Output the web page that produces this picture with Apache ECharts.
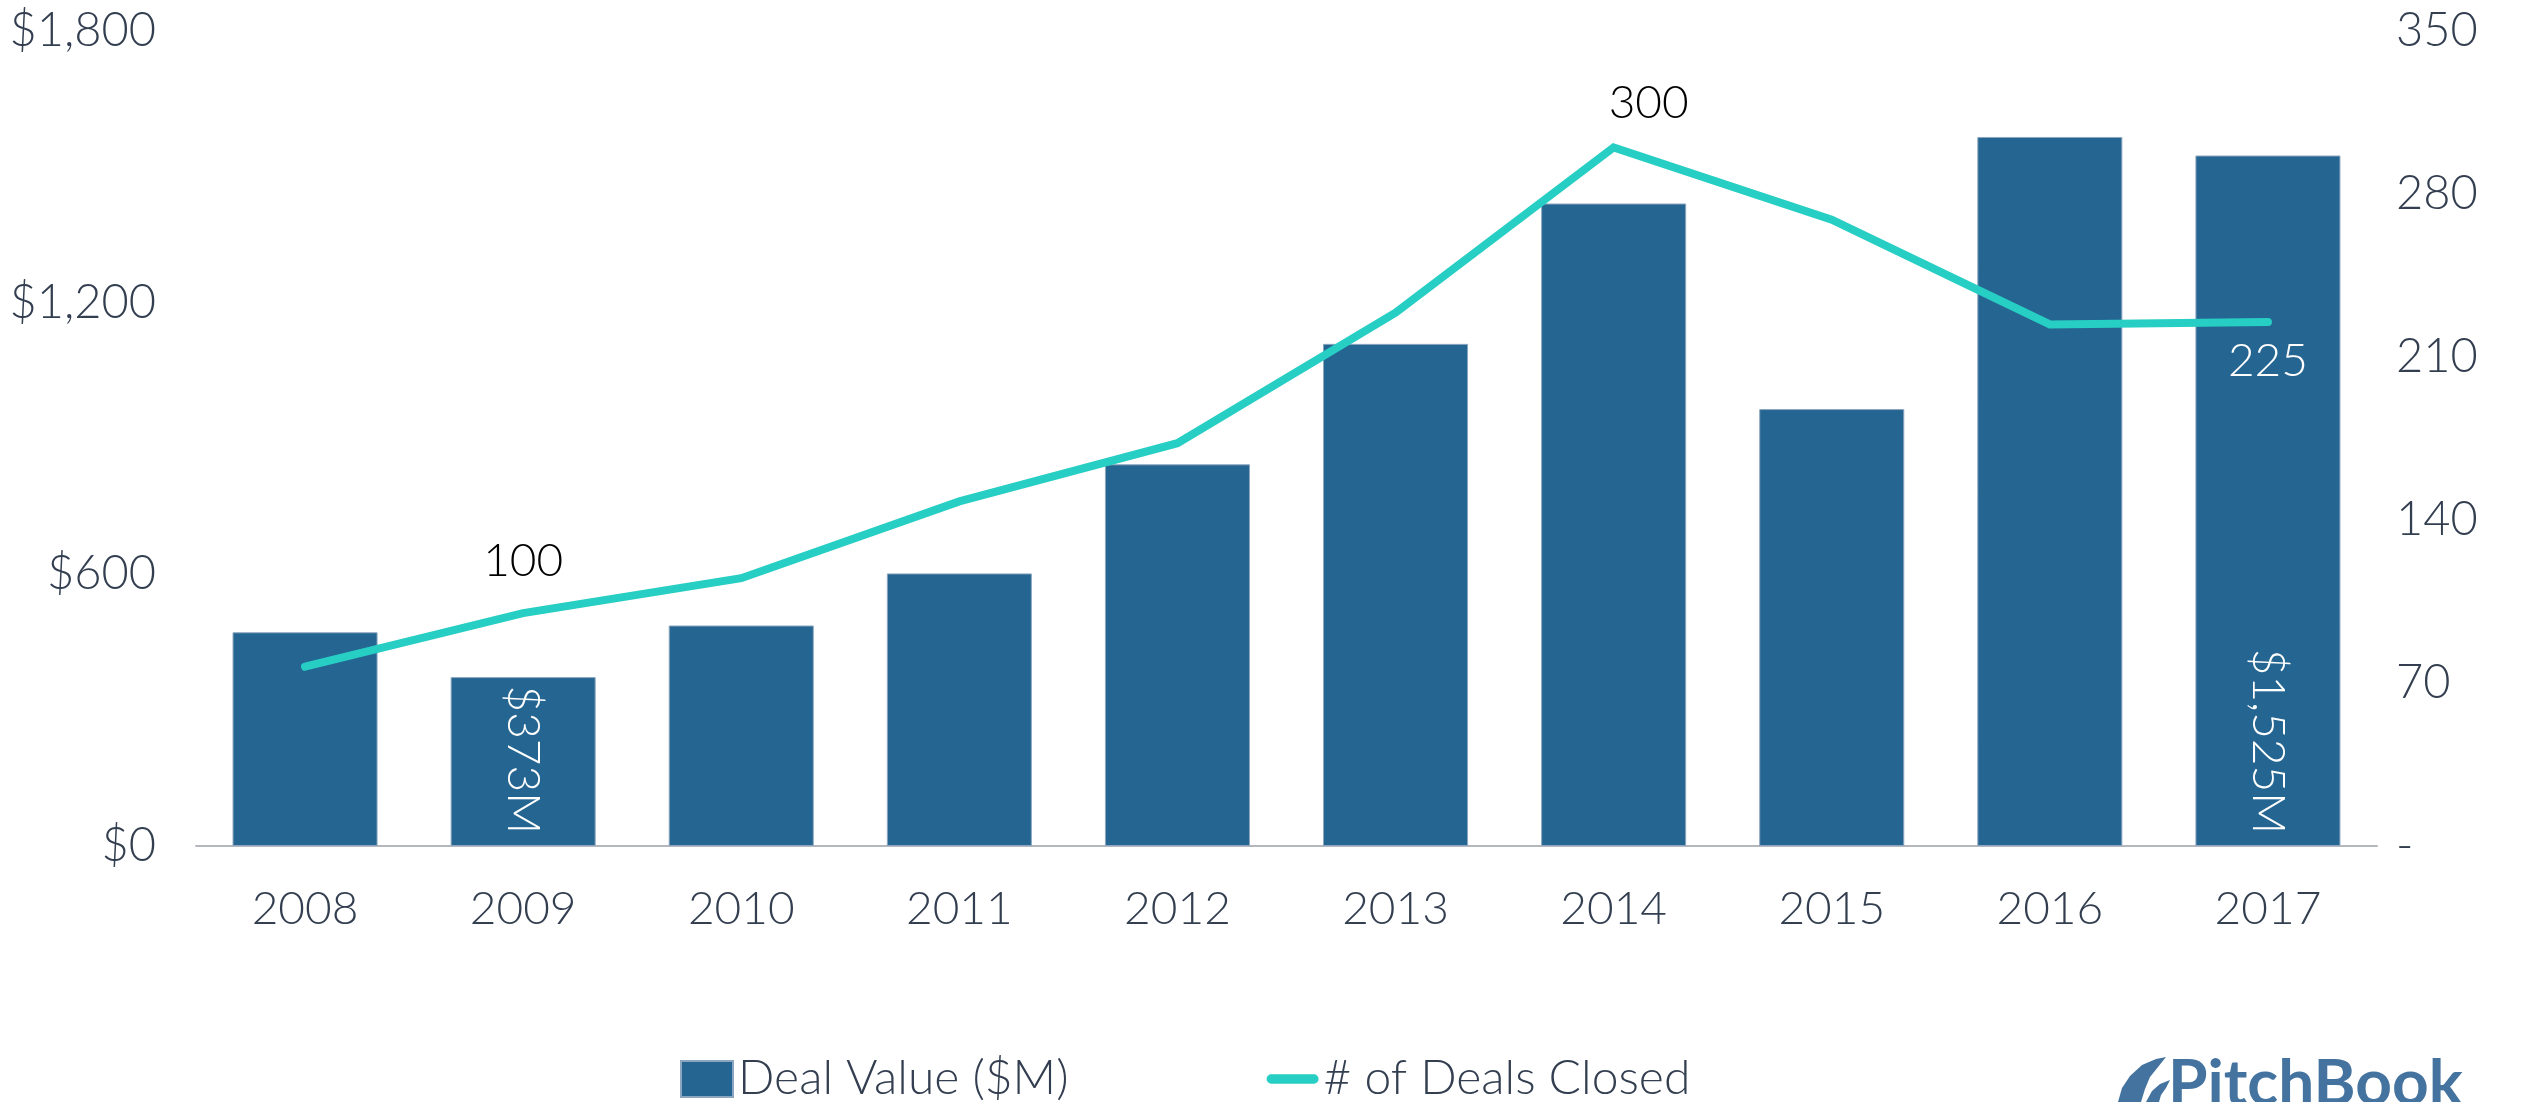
<!DOCTYPE html>
<html>
<head>
<meta charset="utf-8">
<title>Deal Value and Deals Closed</title>
<script src="https://cdn.jsdelivr.net/npm/echarts@6.0.0/dist/echarts.min.js"></script>
<style>
    html, body { margin: 0; padding: 0; background: #fff; }
    #main { width: 2521px; height: 1102px; }
</style>
</head>
<body>
<div id="main"></div>
<script>
    var years = ['2008', '2009', '2010', '2011', '2012', '2013', '2014', '2015', '2016', '2017'];
    var dealValue = [472, 373, 487, 602, 843, 1109, 1419, 965, 1566, 1525];
    var dealsClosed = [77, 100, 115, 148, 173, 229, 300, 269, 224, 225];
    var valueTicks = [0, 600, 1200, 1800];
    var countTicks = [0, 70, 140, 210, 280, 350];

    // which points get a value label
    var barLabelIdx = [1, 9];
    var lineLabelIdx = [1, 6, 9];

    var axisColor = '#333f50';
    var lineColor = '#27cec3';
    var font = 'Lato';

    function money(v) {
        return '$' + v.toLocaleString('en-US');
    }

    // label placement for the few labelled line points
    var lineLabelStyle = {
        1: {position: 'top', distance: 28, color: '#000'},
        6: {position: 'top', distance: 21, offset: [35, 0], color: '#000'},
        9: {position: 'bottom', distance: 16, color: '#fff'}
    };

    var barData = dealValue.map(function (v, i) {
        if (barLabelIdx.indexOf(i) >= 0) {
            return {value: v, label: {show: true}};
        }
        return v;
    });

    // line labels go through markPoint so the line itself needs no symbols
    var lineMarks = lineLabelIdx.map(function (i) {
        return {
            coord: [i, dealsClosed[i]],
            value: dealsClosed[i],
            label: Object.assign({show: true}, lineLabelStyle[i])
        };
    });

    var myChart = echarts.init(document.getElementById('main'));

    var option = {
        animation: false,
        backgroundColor: '#fff',
        grid: {
            left: 196,
            right: 144,
            top: 31,
            bottom: 256
        },
        legend: {
            left: 675,
            top: 1050,
            itemWidth: 52,
            itemHeight: 36,
            itemGap: 198,
            symbolKeepAspect: true,
            textStyle: {
                fontFamily: font,
                fontWeight: 300,
                fontSize: 48,
                color: axisColor
            },
            data: [
                {name: 'Deal Value ($M)', icon: 'rect'},
                {
                    name: '# of Deals Closed',
                    icon: 'path://M5,0 L51,0 A5,5 0 0 1 51,10 L5,10 A5,5 0 0 1 5,0 Z'
                }
            ]
        },
        xAxis: {
            type: 'category',
            data: years,
            axisLine: {lineStyle: {color: '#b4b7bd', width: 2}},
            axisTick: {length: 12, lineStyle: {color: '#a6a9ae', width: 2}},
            axisLabel: {
                margin: 40,
                fontFamily: font,
                fontWeight: 300,
                fontSize: 46,
                color: axisColor
            }
        },
        yAxis: [
            {
                type: 'value',
                min: valueTicks[0],
                max: valueTicks[valueTicks.length - 1],
                interval: valueTicks[1] - valueTicks[0],
                splitLine: {show: false},
                axisLine: {show: false},
                axisTick: {show: false},
                axisLabel: {
                    margin: 40,
                    fontFamily: font,
                    fontWeight: 300,
                    fontSize: 47,
                    color: axisColor,
                    formatter: money
                }
            },
            {
                type: 'value',
                min: countTicks[0],
                max: countTicks[countTicks.length - 1],
                interval: countTicks[1] - countTicks[0],
                splitLine: {show: false},
                axisLine: {show: false},
                axisTick: {show: false},
                axisLabel: {
                    margin: 19,
                    fontFamily: font,
                    fontWeight: 300,
                    fontSize: 47,
                    color: axisColor,
                    formatter: function (v) {
                        return v === 0 ? '-' : String(v);
                    }
                }
            }
        ],
        series: [
            {
                name: 'Deal Value ($M)',
                type: 'bar',
                data: barData,
                barWidth: '66.5%',
                itemStyle: {
                    color: '#246591',
                    borderColor: '#8ca6bf',
                    borderWidth: 1
                },
                label: {
                    show: false,
                    position: 'insideBottom',
                    distance: 12,
                    rotate: -90,
                    align: 'right',
                    verticalAlign: 'middle',
                    fontFamily: font,
                    fontWeight: 300,
                    fontSize: 46,
                    color: '#fff',
                    formatter: function (p) {
                        return money(p.value) + 'M';
                    }
                },
                z: 2
            },
            {
                name: '# of Deals Closed',
                type: 'line',
                yAxisIndex: 1,
                data: dealsClosed,
                symbol: 'none',
                showSymbol: false,
                lineStyle: {
                    color: lineColor,
                    width: 8,
                    cap: 'round',
                    join: 'miter'
                },
                itemStyle: {color: lineColor},
                markPoint: {
                    symbol: 'circle',
                    symbolSize: 1,
                    silent: true,
                    itemStyle: {color: 'rgba(0,0,0,0)'},
                    label: {
                        show: true,
                        fontFamily: font,
                        fontWeight: 300,
                        fontSize: 46,
                        formatter: '{c}'
                    },
                    data: lineMarks
                },
                z: 3
            }
        ],
        graphic: [
            {
                type: 'polygon',
                shape: {
                    points: [[2118, 1102], [2122, 1088], [2130, 1076], [2142, 1065], [2156, 1059], [2166, 1057],
                        [2158, 1067], [2150, 1077], [2145, 1089], [2141, 1102]]
                },
                style: {fill: '#44739f'}
            },
            {
                type: 'polygon',
                shape: {
                    points: [[2146, 1102], [2152, 1091], [2160, 1084], [2170, 1080], [2166, 1088], [2161, 1095], [2159, 1102]]
                },
                style: {fill: '#44739f'}
            },
            {
                type: 'text',
                left: 2168,
                top: 1052,
                style: {
                    text: 'PitchBook',
                    fontFamily: font,
                    fontSize: 64,
                    fontWeight: 'bold',
                    fill: '#44739f'
                }
            }
        ]
    };

    myChart.setOption(option);
</script>
</body>
</html>
